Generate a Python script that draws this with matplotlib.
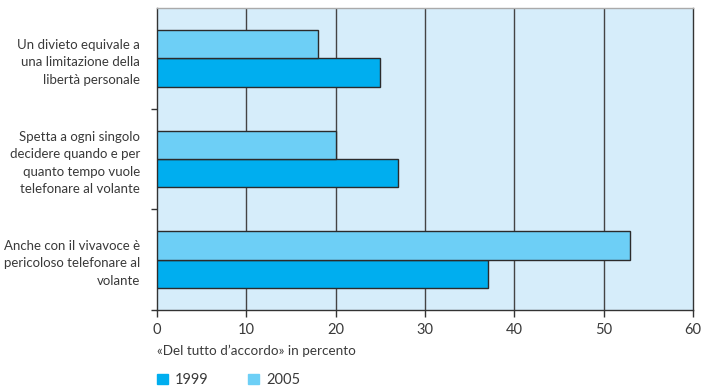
import matplotlib
matplotlib.use("Agg")
import matplotlib.pyplot as plt
import numpy as np

plt.rcParams['font.family'] = ['Lato', 'DejaVu Sans']

# Data
categories = [
    "Un divieto equivale a\nuna limitazione della\nlibertà personale",
    "Spetta a ogni singolo\ndecidere quando e per\nquanto tempo vuole\ntelefonare al volante",
    "Anche con il vivavoce è\npericoloso telefonare al\nvolante",
]
val_1999 = [25, 27, 37]
val_2005 = [18, 20, 53]
years = ["1999", "2005"]
xticks = [0, 10, 20, 30, 40, 50, 60]

c1999 = '#00aeef'
c2005 = '#6dcff6'
bg = '#d6edfa'
edge = '#2b2b2b'
txt = '#3a3a3a'

fig = plt.figure(figsize=(7.01, 3.87), dpi=100)
ax = fig.add_axes([157/701, 1 - 310/387, (693-157)/701, (310-8)/387])
ax.set_facecolor(bg)

y = np.arange(len(categories))
h = 0.28
ax.barh(y + h/2, val_1999, height=h, color=c1999, edgecolor=edge, linewidth=1, zorder=3)
ax.barh(y - h/2, val_2005, height=h, color=c2005, edgecolor=edge, linewidth=1, zorder=3)

ax.set_xlim(0, 60)
ax.set_ylim(2.5, -0.5)
ax.set_xticks(xticks)
ax.set_xticklabels([str(t) for t in xticks], fontsize=10.5, color=txt)
ax.tick_params(axis='x', direction='out', length=5, width=1, color='#333333', pad=4)

ax.set_yticks(y)
ax.set_yticklabels(categories, fontsize=9.5, color=txt, linespacing=1.55)
ax.tick_params(axis='y', which='major', length=0, pad=12)
ax.set_yticks([0.5, 1.5, 2.5], minor=True)
ax.tick_params(axis='y', which='minor', direction='out', length=4, width=1, color='#333333')

for xv in xticks[1:-1]:
    ax.axvline(xv, color='#444444', linewidth=1, zorder=2)

for s in ['left', 'bottom', 'right']:
    ax.spines[s].set_color('#333333')
    ax.spines[s].set_linewidth(1)
ax.spines['top'].set_color('#aaaaaa')
ax.spines['top'].set_linewidth(1)

fig.text(157/701, 1 - 351/387, "«Del tutto d’accordo» in percento", fontsize=9.7,
         color=txt, ha='left', va='center')

handles = [plt.Rectangle((0, 0), 1, 1, color=c1999), plt.Rectangle((0, 0), 1, 1, color=c2005)]
fig.legend(handles, years, loc='center left', bbox_to_anchor=(157/701, 1 - 380/387),
           ncol=2, frameon=False, fontsize=10.5, handlelength=0.75, handleheight=0.75,
           columnspacing=2.7, handletextpad=0.5, labelcolor=txt,
           borderpad=0, borderaxespad=0)

fig.savefig("out.png", dpi=100)
